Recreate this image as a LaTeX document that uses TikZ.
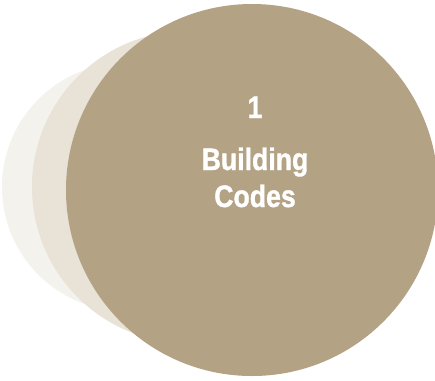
\documentclass[tikz,border=0pt]{standalone}
\usepackage{fontspec}
\usepackage{tikz}
\newfontfamily\labelfont[FakeStretch=0.86, FakeBold=1.2]{Liberation Sans}

\definecolor{palecream}{RGB}{243,242,236}
\definecolor{lightsand}{RGB}{232,226,215}
\definecolor{darksand}{RGB}{179,162,131}

\tikzset{
    disc/.style={shape=circle, inner sep=0pt},
    caption/.style={anchor=base, text=white, font=\labelfont\bfseries\fontsize{31}{37}\selectfont}
}

\begin{document}
\begin{tikzpicture}[x=1pt, y=-1pt]
    \useasboundingbox (0,0) rectangle (435,380);
    
    \node[disc, fill=palecream, minimum size=248pt] (c) at (126,187) {};
    \node[disc, fill=lightsand, minimum size=312pt] (b) at (188,187) {};
    \node[disc, fill=darksand, minimum size=372pt] (a) at (252,190) {};
    
    \node[caption] (num) at (255,118) {1};
    \node[caption] (top) at (255,170) {Building};
    \node[caption] (bot) at (255,207) {Codes};
    
\end{tikzpicture}
\end{document}
